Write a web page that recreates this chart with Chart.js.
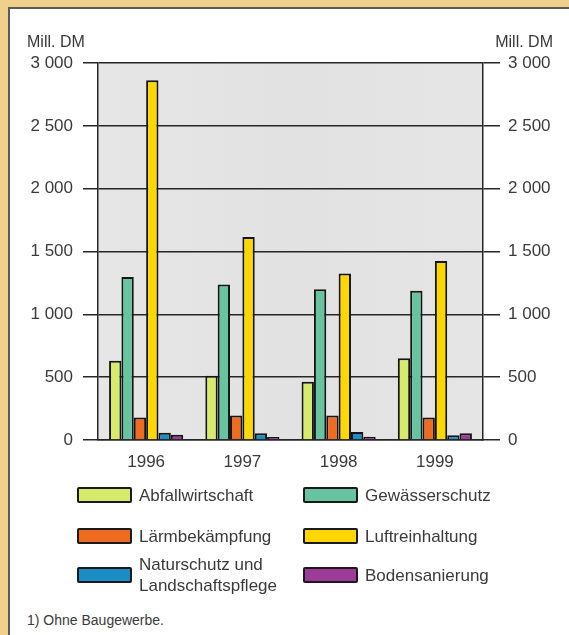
<!DOCTYPE html>
<html>
<head>
<meta charset="utf-8">
<script src="https://cdn.jsdelivr.net/npm/chart.js@4"></script>
<style>
  html, body { margin: 0; padding: 0; }
  body { width: 569px; height: 635px; background: #efd08c; position: relative; overflow: hidden;
         font-family: "Liberation Sans", Arial, sans-serif; color: #333; }
  #panel { position: absolute; left: 8px; top: 7px; width: 561px; height: 628px; background: #fff;
           border-left: 2px solid #5a5a5a; border-top: 2px solid #5a5a5a; box-sizing: border-box; }
  #c { position: absolute; left: 0; top: 0; }
  .unit { position: absolute; top: 33px; font-size: 16px; color: #383838; line-height: 18px; }
  .leg { position: absolute; display: flex; align-items: center; }
  .box { width: 55px; height: 16px; border: 2px solid #1a1a1a; box-sizing: border-box; border-radius: 2px; flex: none; }
  .lt { font-size: 17px; line-height: 21px; margin-left: 7px; max-width: 150px; color: #3a3a3a; }
  #foot { position: absolute; left: 27px; top: 612px; font-size: 14px; color: #3a3a3a; }
</style>
</head>
<body>
<div id="panel"></div>
<canvas id="c" width="569" height="480"></canvas>
<div class="unit" style="left:27px;">Mill. DM</div>
<div class="unit" style="right:16px;">Mill. DM</div>
<div id="legend"></div>
<div id="foot">1) Ohne Baugewerbe.</div>
<script>
const categories = ['1996', '1997', '1998', '1999'];
const seriesNames = ['Abfallwirtschaft', 'Gewässerschutz', 'Lärmbekämpfung', 'Luftreinhaltung', 'Naturschutz und Landschaftspflege', 'Bodensanierung'];
const abfallwirtschaft = [631, 512, 464, 650];
const gewaesserschutz = [1298, 1237, 1200, 1187];
const laermbekaempfung = [180, 194, 194, 180];
const luftreinhaltung = [2862, 1616, 1325, 1425];
const naturschutz = [58, 53, 64, 37];
const bodensanierung = [42, 24, 26, 53];
const yTickLabels = ['0', '500', '1 000', '1 500', '2 000', '2 500', '3 000'];
const colors = ['#d6ea6c', '#68c4a0', '#ee6b20', '#ffd700', '#1c8cc4', '#9c3c98'];

const seriesValues = [abfallwirtschaft, gewaesserschutz, laermbekaempfung, luftreinhaltung, naturschutz, bodensanierung];

const bgPlugin = {
  id: 'plotBg',
  beforeDraw(chart) {
    const a = chart.chartArea, ctx = chart.ctx;
    ctx.save();
    const g = ctx.createLinearGradient(a.left, 0, a.right, 0);
    g.addColorStop(0, '#e6e6e6');
    g.addColorStop(0.5, '#e2e2e2');
    g.addColorStop(1, '#e5e5e5');
    ctx.fillStyle = g;
    ctx.fillRect(a.left, a.top, a.right - a.left, a.bottom - a.top);
    ctx.restore();
  }
};

const tickFont = { family: '"Liberation Sans", Arial, sans-serif', size: 17 };
const dark = '#262626';

new Chart(document.getElementById('c'), {
  type: 'bar',
  data: {
    labels: categories,
    datasets: seriesValues.map((vals, i) => ({
      label: seriesNames[i],
      data: vals,
      backgroundColor: colors[i],
      borderColor: '#151515',
      borderWidth: 2,
      borderSkipped: 'bottom',
      barPercentage: 1,
      categoryPercentage: 0.77,
      yAxisID: 'y'
    }))
  },
  options: {
    responsive: false,
    animation: false,
    devicePixelRatio: 1,
    layout: { padding: { top: 63, left: 0, right: 0, bottom: 0 } },
    plugins: { legend: { display: false }, tooltip: { enabled: false } },
    scales: {
      x: {
        grid: { display: false, drawTicks: false },
        border: { display: true, color: dark, width: 1.5 },
        ticks: { color: '#3a3a3a', font: tickFont, padding: 12 },
        afterFit(s) { s.height = 40; }
      },
      y: {
        position: 'left',
        min: 0, max: 3000,
        ticks: { stepSize: 500, color: '#3a3a3a', font: tickFont, padding: 10,
                 callback: (v, i) => yTickLabels[i] },
        grid: { color: dark, lineWidth: 1.5, tickLength: 15, tickColor: dark },
        border: { display: true, color: dark, width: 1.5 },
        afterFit(s) { s.width = 98; }
      },
      y2: {
        position: 'right',
        min: 0, max: 3000,
        ticks: { stepSize: 500, color: '#3a3a3a', font: tickFont, padding: 8,
                 callback: (v, i) => yTickLabels[i] },
        grid: { drawOnChartArea: false, color: dark, lineWidth: 1.5, tickLength: 17, tickColor: dark },
        border: { display: true, color: dark, width: 1.5 },
        afterFit(s) { s.width = 86; }
      }
    }
  },
  plugins: [bgPlugin]
});

// HTML legend built from the series arrays
const legend = document.getElementById('legend');
const colX = [77, 303];
const rowY = [495, 536, 575];
seriesNames.forEach((name, i) => {
  const item = document.createElement('div');
  item.className = 'leg';
  const col = i % 2, row = Math.floor(i / 2);
  item.style.left = colX[col] + 'px';
  item.style.top = (rowY[row] - 22) + 'px';
  item.style.height = '44px';
  const box = document.createElement('div');
  box.className = 'box';
  box.style.background = colors[i];
  const txt = document.createElement('div');
  txt.className = 'lt';
  txt.textContent = name;
  item.appendChild(box);
  item.appendChild(txt);
  legend.appendChild(item);
});
</script>
</body>
</html>
